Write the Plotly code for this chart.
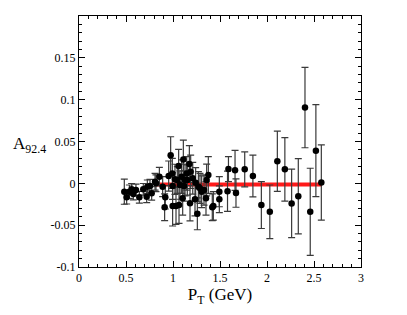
import plotly.graph_objects as go

pt = [0.482, 0.507, 0.536, 0.560, 0.578, 0.606, 0.642, 0.684, 0.720, 0.727,
      0.755, 0.773, 0.809, 0.819, 0.855, 0.890, 0.918, 0.911, 0.954, 0.975,
      0.993, 0.996, 0.996, 1.021, 1.032, 1.046, 1.060, 1.064, 1.074, 1.092,
      1.103, 1.110, 1.117, 1.128, 1.146, 1.152, 1.174, 1.181, 1.188, 1.210,
      1.234, 1.241, 1.259, 1.270, 1.287, 1.305, 1.330, 1.351, 1.358, 1.376,
      1.418, 1.429, 1.493, 1.493, 1.580, 1.590, 1.660, 1.670, 1.763, 1.850,
      1.940, 2.030, 2.110, 2.190, 2.262, 2.333, 2.404, 2.460, 2.520, 2.578]

asym = [-0.010, -0.0167, -0.010, -0.0072, -0.0127, -0.008, -0.0167, -0.0072, -0.016, -0.004,
        -0.0032, -0.012, 0.002, 0.000, 0.008, -0.004, -0.0167, -0.0286, 0.0087, 0.0337,
        0.0119, -0.0032, -0.027, 0.0048, -0.027, 0.004, 0.0206, -0.0258, -0.002, 0.008,
        -0.0179, 0.0286, -0.0032, 0.004, 0.0119, 0.004, 0.023, -0.0238, 0.0138, 0.006,
        -0.019, 0.0007, -0.0365, -0.004, -0.006, -0.010, -0.008, -0.0179, 0.004, 0.0099,
        -0.0286, -0.027, -0.010, -0.019, -0.0095, 0.017, 0.0155, -0.0116, 0.0167, 0.0087,
        -0.026, -0.034, 0.0265, 0.0167, -0.024, -0.0155, 0.0905, -0.034, 0.039, 0.001]

err = [0.015, 0.008, 0.008, 0.007, 0.007, 0.007, 0.007, 0.007, 0.007, 0.008,
       0.008, 0.008, 0.010, 0.010, 0.011, 0.012, 0.014, 0.016, 0.018, 0.022,
       0.018, 0.016, 0.024, 0.018, 0.022, 0.016, 0.020, 0.022, 0.017, 0.020,
       0.020, 0.023, 0.018, 0.019, 0.020, 0.018, 0.022, 0.021, 0.020, 0.019,
       0.020, 0.018, 0.019, 0.018, 0.018, 0.019, 0.018, 0.020, 0.019, 0.022,
       0.016, 0.017, 0.018, 0.016, 0.024, 0.015, 0.024, 0.017, 0.021, 0.025,
       0.028, 0.032, 0.036, 0.038, 0.041, 0.045, 0.048, 0.052, 0.055, 0.045]

fit_x = [0.80, 2.585]
fit_y = [-0.0015, -0.0015]

x_ticks = [0, 0.5, 1, 1.5, 2, 2.5, 3]
x_labels = ["0", "0.5", "1", "1.5", "2", "2.5", "3"]
y_ticks = [-0.1, -0.05, 0, 0.05, 0.1, 0.15]
y_labels = ["-0.1", "-0.05", "0", "0.05", "0.1", "0.15"]

FONT = "Liberation Serif"

fig = go.Figure()
fig.add_trace(go.Scatter(
    x=fit_x, y=fit_y, mode="lines",
    line=dict(color="#ff1a1a", width=4), hoverinfo="skip", showlegend=False))
fig.add_trace(go.Scatter(
    x=pt, y=asym, mode="markers",
    marker=dict(color="black", size=6.5),
    error_y=dict(type="data", array=err, visible=True, color="#3a3a3a",
                 thickness=1.2, width=3.5),
    showlegend=False))

axis_common = dict(
    showgrid=False, zeroline=False, showline=True, linecolor="black",
    linewidth=1, mirror="allticks", ticks="inside", ticklen=6,
    tickcolor="black", tickfont=dict(family=FONT, size=12, color="black"),
)

fig.update_xaxes(range=[0, 3], tickvals=x_ticks, ticktext=x_labels,
                 minor=dict(dtick=0.1, ticks="inside", ticklen=3, tickcolor="black"),
                 title=dict(text="P<sub>T</sub> (GeV)",
                            font=dict(family=FONT, size=17, color="black"),
                            standoff=0),
                 **axis_common)
fig.update_yaxes(range=[-0.1, 0.2], tickvals=y_ticks, ticktext=y_labels,
                 minor=dict(dtick=0.01, ticks="inside", ticklen=3, tickcolor="black"),
                 **axis_common)

fig.add_annotation(text="A<sub>92.4</sub>", xref="paper", yref="paper",
                   x=-0.24, y=0.485, xanchor="left", yanchor="middle",
                   showarrow=False,
                   font=dict(family=FONT, size=17, color="black"))

fig.update_layout(
    width=399, height=307,
    margin=dict(l=71, r=46, t=8, b=48),
    paper_bgcolor="white", plot_bgcolor="white",
    font=dict(family=FONT),
)

fig.write_html("out.html")
